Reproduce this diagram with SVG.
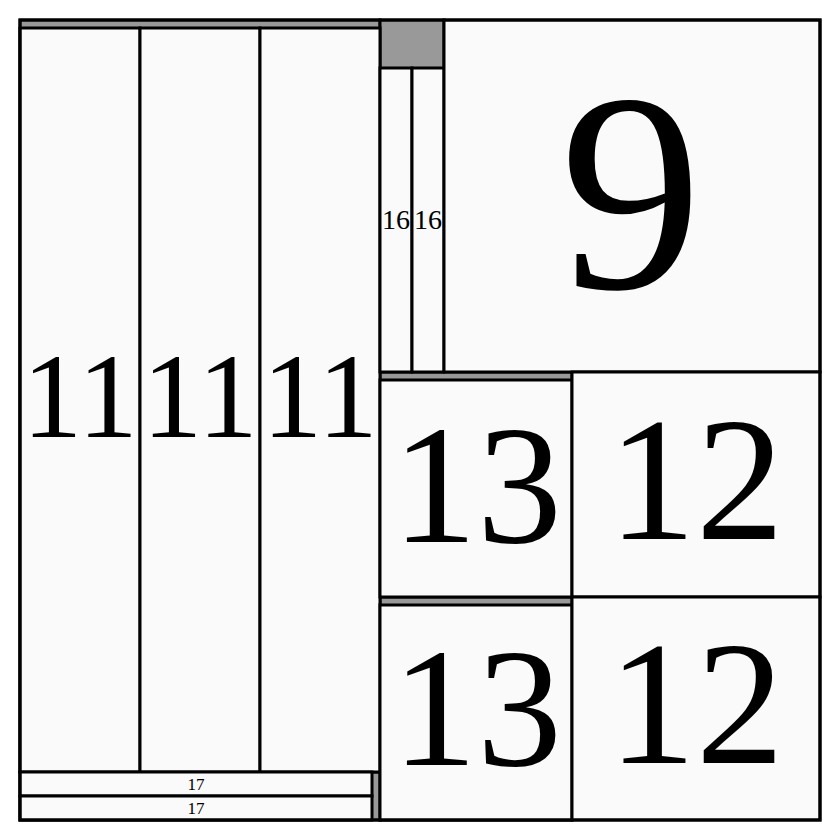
<svg xmlns="http://www.w3.org/2000/svg" width="840" height="840" viewBox="0 0 840 840">
<style>
.grp{fill:#999999;stroke:#000;stroke-width:3}
.cell{fill:#fafafa;stroke:#000;stroke-width:3}
.t{font-family:'Times New Roman',Times,'Liberation Serif',serif;fill:#000;text-anchor:middle}
</style>
<rect x="0" y="0" width="840" height="840" fill="#ffffff"/>
<g id="group-11"><rect class="grp" x="20" y="20" width="360" height="752"/></g>
<g id="group-16"><rect class="grp" x="380" y="20" width="64" height="352"/></g>
<g id="group-13a"><rect class="grp" x="380" y="372" width="192" height="225"/></g>
<g id="group-13b"><rect class="grp" x="380" y="597" width="192" height="223"/></g>
<g id="group-17"><rect class="grp" x="20" y="772" width="360" height="48"/></g>
<g id="node-11a"><rect class="cell" x="20" y="28" width="120" height="744"/><text class="t" x="80" y="437" font-size="120">11</text></g>
<g id="node-11b"><rect class="cell" x="140" y="28" width="120" height="744"/><text class="t" x="200" y="437" font-size="120">11</text></g>
<g id="node-11c"><rect class="cell" x="260" y="28" width="120" height="744"/><text class="t" x="320" y="437" font-size="120">11</text></g>
<g id="node-16a"><rect class="cell" x="380" y="68" width="32" height="304"/><text class="t" x="396" y="229" font-size="28">16</text></g>
<g id="node-16b"><rect class="cell" x="412" y="68" width="32" height="304"/><text class="t" x="428" y="229" font-size="28">16</text></g>
<g id="node-9"><rect class="cell" x="444" y="20" width="376" height="352"/><text class="t" x="631" y="288" font-size="284">9</text></g>
<g id="node-13a"><rect class="cell" x="380" y="380" width="192" height="217"/><text class="t" x="477" y="542" font-size="170">13</text></g>
<g id="node-12a"><rect class="cell" x="572" y="372" width="248" height="225"/><text class="t" x="696" y="539" font-size="176">12</text></g>
<g id="node-13b"><rect class="cell" x="380" y="605" width="192" height="215"/><text class="t" x="477" y="765" font-size="170">13</text></g>
<g id="node-12b"><rect class="cell" x="572" y="597" width="248" height="223"/><text class="t" x="696" y="763" font-size="176">12</text></g>
<g id="node-17a"><rect class="cell" x="20" y="772" width="352" height="24"/><text class="t" x="196" y="790" font-size="17">17</text></g>
<g id="node-17b"><rect class="cell" x="20" y="796" width="352" height="24"/><text class="t" x="196" y="814" font-size="17">17</text></g>
<g id="connectors"></g>
<rect x="20" y="20" width="800" height="800" fill="none" stroke="#000" stroke-width="3"/>
</svg>
